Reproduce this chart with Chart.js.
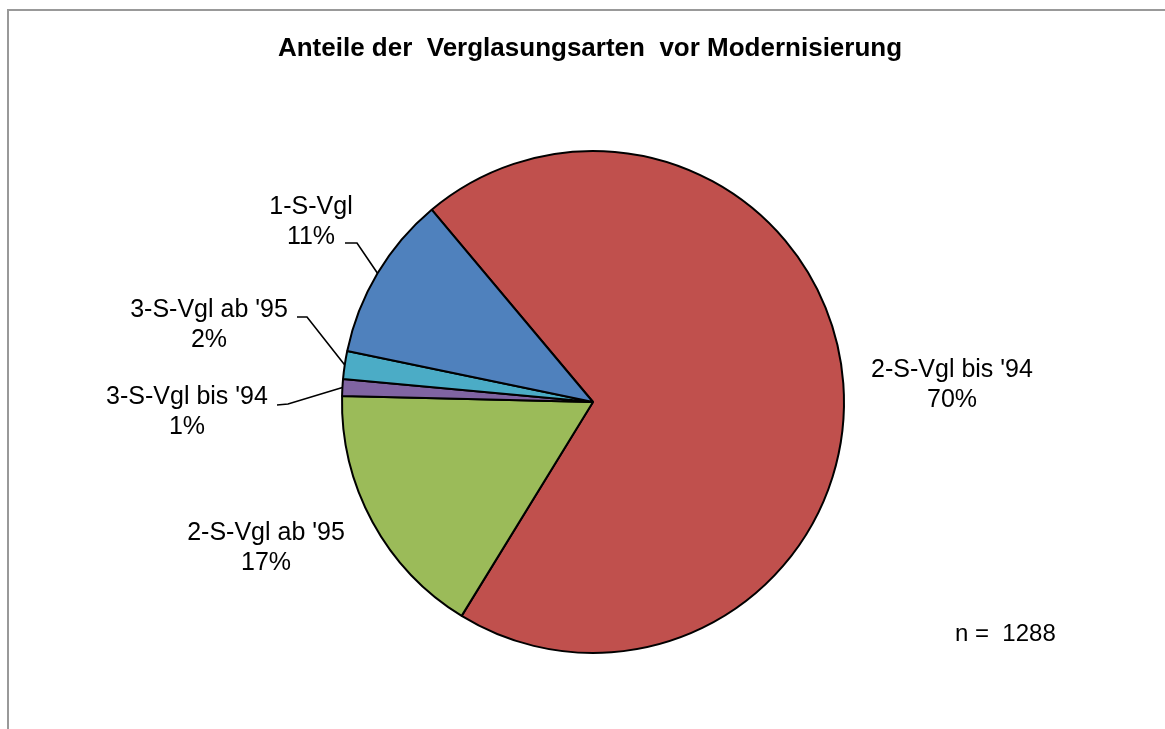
<!DOCTYPE html>
<html>
<head>
<meta charset="utf-8">
<script src="https://cdn.jsdelivr.net/npm/chart.js@4"></script>
<style>
  html, body { margin: 0; padding: 0; background: #fff; overflow: hidden; }
  #wrap { position: relative; width: 1165px; height: 729px; }
  #frame { position: absolute; left: 7px; top: 9px; width: 1200px; height: 800px;
           border-top: 2px solid #999; border-left: 2px solid #999; }
  canvas { position: absolute; left: 0; top: 0; }
</style>
</head>
<body>
<div id="wrap">
  <div id="frame"></div>
  <canvas id="chart" width="1165" height="729"></canvas>
</div>
<script>
// ── Daten ──
const titleText = 'Anteile der  Verglasungsarten  vor Modernisierung';
const categories = ["2-S-Vgl bis '94", "2-S-Vgl ab '95", "3-S-Vgl bis '94", "3-S-Vgl ab '95", '1-S-Vgl'];
const counts = [900, 214, 14, 23, 137];
const sampleSize = 1288;
const colors = ['#C0504D', '#9BBB59', '#8064A2', '#4BACC6', '#4F81BD'];

// Label-Layout relativ zur Tortenmitte (Text-Mitte, Grundlinie erste Zeile)
// leader: [Knick, Ende] relativ zur Mitte, null = keine Linie
const labelLayout = [
  { dx: 359, dy: -25, leader: null },
  { dx: -327, dy: 138, leader: null },
  { dx: -406, dy: 2, leader: [[-305, 2], [-316, 3]] },
  { dx: -384, dy: -85, leader: [[-286, -85], [-296, -85]] },
  { dx: -282, dy: -188, leader: [[-236, -159], [-248, -159]] }
];

const FONT = '"Liberation Sans", Arial, sans-serif';

const labelPlugin = {
  id: 'pieLabels',
  afterDraw(chart) {
    const ctx = chart.ctx;
    const meta = chart.getDatasetMeta(0);
    const total = counts.reduce((a, b) => a + b, 0);

    ctx.save();
    // Titel
    ctx.fillStyle = '#000';
    ctx.font = 'bold 26px ' + FONT;
    ctx.textAlign = 'center';
    ctx.textBaseline = 'alphabetic';
    ctx.fillText(titleText, 590, 56);

    meta.data.forEach((arc, i) => {
      const cx = arc.x, cy = arc.y;
      const lay = labelLayout[i];
      const pct = Math.round(counts[i] / total * 100) + '%';

      ctx.font = '25px ' + FONT;
      ctx.fillStyle = '#000';
      ctx.textAlign = 'center';
      const lx = cx + lay.dx, ly = cy + lay.dy;
      ctx.fillText(categories[i], lx, ly);
      ctx.fillText(pct, lx, ly + 30);

      if (lay.leader) {
        const mid = (arc.startAngle + arc.endAngle) / 2;
        const r = arc.outerRadius;
        ctx.beginPath();
        ctx.moveTo(cx + Math.cos(mid) * r, cy + Math.sin(mid) * r);
        ctx.lineTo(cx + lay.leader[0][0], cy + lay.leader[0][1]);
        ctx.lineTo(cx + lay.leader[1][0], cy + lay.leader[1][1]);
        ctx.strokeStyle = '#000';
        ctx.lineWidth = 1.6;
        ctx.stroke();
      }
    });

    // Stichprobe
    ctx.font = '24px ' + FONT;
    ctx.textAlign = 'left';
    ctx.fillText('n =  ' + sampleSize, 955, 641);
    ctx.restore();
  }
};

new Chart(document.getElementById('chart'), {
  type: 'pie',
  data: {
    labels: categories,
    datasets: [{
      data: counts,
      backgroundColor: colors,
      borderColor: '#000',
      borderWidth: 2,
      hoverOffset: 0
    }]
  },
  options: {
    responsive: false,
    animation: false,
    rotation: 320,
    layout: { padding: { left: 341, right: 320, top: 150, bottom: 75 } },
    plugins: {
      legend: { display: false },
      tooltip: { enabled: false },
      title: { display: false }
    },
    events: []
  },
  plugins: [labelPlugin]
});
</script>
</body>
</html>
